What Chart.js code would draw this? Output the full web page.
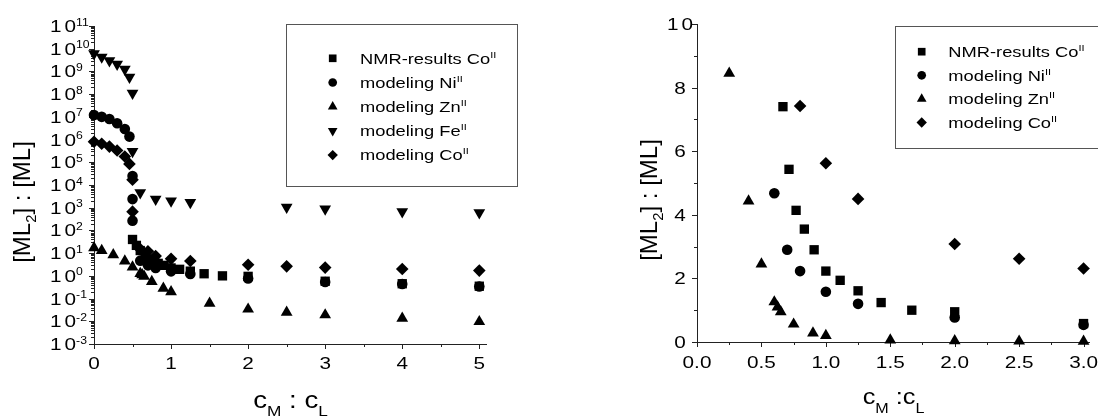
<!DOCTYPE html>
<html>
<head>
<meta charset="utf-8">
<title>[ML2] : [ML]</title>
<script src="https://cdn.jsdelivr.net/npm/chart.js@4.4.1/dist/chart.umd.min.js"></script>
<style>
  body { margin: 0; background: #fff; }
  #wrap { display: flex; width: 1098px; height: 417px; }
  canvas { display: block; }
</style>
</head>
<body>
<div id="wrap">
  <canvas id="left" width="549" height="417"></canvas>
  <canvas id="right" width="549" height="417"></canvas>
</div>
<script>
// values, x = cM : cL, y = [ML2] : [ML]
const nmrX = [0.5, 0.55, 0.6, 0.667, 0.714, 0.769, 0.833, 0.909, 1.0, 1.111, 1.25, 1.429, 1.667, 2.0, 3.0, 4.0, 5.0]
const nmrY = [40, 22, 13, 7.4, 5.43, 4.14, 3.55, 2.9, 2.23, 1.94, 1.61, 1.24, 1.0, 0.95, 0.58, 0.45, 0.35]

const niX = [0, 0.1, 0.2, 0.3, 0.4, 0.46, 0.5, 0.5, 0.5, 0.6, 0.7, 0.8, 1.0, 1.25, 2.0, 3.0, 4.0, 5.0]
const niY = [1.2e7, 1.0e7, 8e6, 5.2e6, 2.9e6, 1.35e6, 2.5e4, 2.4e3, 270, 4.68, 2.9, 2.23, 1.58, 1.2, 0.77, 0.54, 0.44, 0.34]

const znX = [0, 0.1, 0.25, 0.4, 0.5, 0.6, 0.625, 0.65, 0.75, 0.9, 1.0, 1.5, 2.0, 2.5, 3.0, 4.0, 5.0]
const znY = [17, 13, 8.45, 4.43, 2.45, 1.26, 1.1, 0.95, 0.56, 0.28, 0.2, 0.062, 0.034, 0.025, 0.019, 0.0135, 0.0096]

const feX = [0, 0.1, 0.2, 0.3, 0.4, 0.46, 0.5, 0.5, 0.6, 0.8, 1.0, 1.25, 2.5, 3.0, 4.0, 5.0]
const feY = [6e9, 4.3e9, 3e9, 2.1e9, 1.26e9, 5.6e8, 1.1e8, 3e5, 4.6e3, 2.4e3, 2e3, 1.7e3, 1.05e3, 890, 670, 600]

const coX = [0, 0.1, 0.2, 0.3, 0.4, 0.46, 0.5, 0.5, 0.6, 0.7, 0.8, 1.0, 1.25, 2.0, 2.5, 3.0, 4.0, 5.0]
const coY = [8e5, 6.5e5, 4.9e5, 3.3e5, 1.8e5, 8.5e4, 1.7e4, 670, 15, 12, 7.42, 5.62, 4.5, 3.08, 2.62, 2.31, 2.0, 1.7]

const seriesNames = ["NMR-results Co", "modeling Ni", "modeling Zn", "modeling Fe", "modeling Co"]

// tick labels
const leftXTicks = [0, 1, 2, 3, 4, 5]
const leftXMinor = [0.5, 1.5, 2.5, 3.5, 4.5]
const leftYExp = [-3, -2, -1, 0, 1, 2, 3, 4, 5, 6, 7, 8, 9, 10, 11]
const rightXTicks = ["0.0", "0.5", "1.0", "1.5", "2.0", "2.5", "3.0"]
const rightXMinor = [0.25, 0.75, 1.25, 1.75, 2.25, 2.75]
const rightYTicks = [0, 2, 4, 6, 8, 10]
const rightYMinor = [1, 3, 5, 7, 9]

const FONT = '"Liberation Sans", Arial, Helvetica, sans-serif'
const SX = 1.22   // the figure's lettering is a bit wide

// draws a row of text pieces (sub/superscripts via dy, extra spacing via gap)
function drawRuns(ctx, parts, x, y, align, sx) {
  let total = 0
  parts.forEach((p) => {
    ctx.font = p.s + "px " + FONT
    p.w = ctx.measureText(p.t).width * sx + (p.gap || 0)
    total += p.w
  })
  let cx = x
  if (align === "center") cx = x - total / 2
  if (align === "right") cx = x - total
  parts.forEach((p) => {
    ctx.save()
    ctx.font = p.s + "px " + FONT
    ctx.textAlign = "left"
    ctx.textBaseline = "alphabetic"
    ctx.translate(cx, y + (p.dy || 0))
    ctx.scale(sx, 1)
    ctx.fillText(p.t, 0, 0)
    ctx.restore()
    cx += p.w
  })
}

// "10" in the figure's font is set rather loose
const ten = (s) => [{ t: "1", s, gap: 3 }, { t: "0", s }]
const numLabel = (str, s) => (str === "10" ? ten(s) : [{ t: str, s }])
const yTitle = (s) => [{ t: "[ML", s }, { t: "2", s: s * 0.62, dy: s * 0.25 }, { t: "] : [ML]", s }]

// per canvas: ticks, titles, legend box
const frames = {
  left: {
    xMajor: leftXTicks.map((v) => ({ v, label: String(v) })),
    xMinor: leftXMinor,
    yMajor: leftYExp.map((e) => ({ v: Math.pow(10, e), label: ten(17).concat([{ t: String(e), s: 10, dy: -6.5 }]) })),
    yMinor: leftYExp.slice(0, -1).flatMap((e) => [2, 3, 4, 5, 6, 7, 8, 9].map((m) => m * Math.pow(10, e))),
    yLabelX: 50, yLabelAlign: "left",
    xLabelY: 368.5,
    xTitle: { x: 290.5, y: 408, parts: [{ t: "c", s: 24 }, { t: "M", s: 15, dy: 8 }, { t: " : ", s: 24 }, { t: "c", s: 24 }, { t: "L", s: 15, dy: 8 }] },
    yTitle: { x: 21, y: 202, s: 24 },
    legend: { box: [286.5, 24.5, 517.5, 186.5], mx: 332.7, tx: 360, y0: 58.3, dy: 24.2 }
  },
  right: {
    xMajor: rightXTicks.map((l) => ({ v: parseFloat(l), label: l })),
    xMinor: rightXMinor,
    yMajor: rightYTicks.map((v) => ({ v, label: numLabel(String(v), 17) })),
    yMinor: rightYMinor,
    yLabelX: 131, yLabelAlign: "center",
    xLabelY: 367.8,
    xTitle: { x: 344.5, y: 404, parts: [{ t: "c", s: 22 }, { t: "M", s: 14, dy: 9 }, { t: " :", s: 22 }, { t: "c", s: 22 }, { t: "L", s: 14, dy: 9 }] },
    yTitle: { x: 99, y: 200, s: 24 },
    legend: { box: [346.5, 26.5, 560, 148.5], mx: 372.7, tx: 399.3, y0: 51.7, dy: 23.6 }
  }
}

const framePlugin = {
  id: "frame",
  beforeDatasetsDraw(chart) {
    const f = frames[chart.canvas.id]
    const ctx = chart.ctx
    const a = chart.chartArea
    const xs = chart.scales.x, ys = chart.scales.y
    ctx.save()
    ctx.strokeStyle = "#222"
    ctx.lineWidth = 1
    ctx.beginPath()
    ctx.moveTo(a.left + 0.5, a.top)
    ctx.lineTo(a.left + 0.5, a.bottom + 0.5)
    ctx.lineTo(a.right, a.bottom + 0.5)
    // x ticks point down, y ticks point left
    f.xMajor.forEach((t) => {
      const px = Math.round(xs.getPixelForValue(t.v)) + 0.5
      ctx.moveTo(px, a.bottom); ctx.lineTo(px, a.bottom + 5)
    })
    f.xMinor.forEach((v) => {
      const px = Math.round(xs.getPixelForValue(v)) + 0.5
      ctx.moveTo(px, a.bottom); ctx.lineTo(px, a.bottom + 3)
    })
    f.yMajor.forEach((t) => {
      const py = Math.round(ys.getPixelForValue(t.v)) + 0.5
      ctx.moveTo(a.left, py); ctx.lineTo(a.left - 5, py)
    })
    f.yMinor.forEach((v) => {
      const py = Math.round(ys.getPixelForValue(v)) + 0.5
      ctx.moveTo(a.left, py); ctx.lineTo(a.left - 3, py)
    })
    ctx.stroke()

    ctx.fillStyle = "#000"
    f.xMajor.forEach((t) => {
      drawRuns(ctx, numLabel(t.label, 17), xs.getPixelForValue(t.v), f.xLabelY, "center", SX)
    })
    f.yMajor.forEach((t) => {
      drawRuns(ctx, t.label, f.yLabelX, ys.getPixelForValue(t.v) + 6, f.yLabelAlign, SX)
    })
    drawRuns(ctx, f.xTitle.parts, f.xTitle.x, f.xTitle.y, "center", 1.15)
    ctx.save()
    ctx.translate(f.yTitle.x, f.yTitle.y)
    ctx.rotate(-Math.PI / 2)
    drawRuns(ctx, yTitle(f.yTitle.s), 0, f.yTitle.s * 0.36, "center", 1)
    ctx.restore()
    ctx.restore()
  },
  afterDraw(chart) {
    const f = frames[chart.canvas.id]
    const ctx = chart.ctx
    const lg = f.legend
    ctx.save()
    ctx.strokeStyle = "#555"
    ctx.lineWidth = 1
    ctx.strokeRect(lg.box[0], lg.box[1], lg.box[2] - lg.box[0], lg.box[3] - lg.box[1])
    ctx.fillStyle = "#000"
    chart.data.datasets.forEach((ds, i) => {
      const y = lg.y0 + i * lg.dy
      Chart.helpers.drawPoint(ctx, { pointStyle: ds.pointStyle, rotation: ds.pointRotation, radius: ds.pointRadius * 0.82, borderWidth: 0 }, lg.mx, y)
      drawRuns(ctx, [{ t: ds.label, s: 15 }, { t: "II", s: 9, dy: -6 }], lg.tx, y + 5.3, "left", SX)
    })
    ctx.restore()
  }
}

function series(name, xs, ys, style, radius, rotation, xmax, ymax) {
  const data = []
  xs.forEach((x, i) => {
    if (x <= xmax && ys[i] <= ymax) data.push({ x, y: ys[i] })
  })
  return {
    label: name, data,
    pointStyle: style, pointRadius: radius, pointRotation: rotation,
    backgroundColor: "#000", borderColor: "#000", pointBorderWidth: 0,
    showLine: false, clip: false
  }
}

function build(id, datasets, xmax, yscale, padding, xh, yw) {
  return new Chart(document.getElementById(id), {
    type: "scatter",
    data: { datasets },
    options: {
      responsive: false,
      animation: false,
      events: [],
      devicePixelRatio: 1,
      layout: { padding },
      plugins: { legend: { display: false }, tooltip: { enabled: false } },
      scales: {
        x: {
          type: "linear", min: 0, max: xmax,
          grid: { display: false }, border: { display: false }, ticks: { display: false },
          afterFit: (s) => { s.height = xh }
        },
        y: Object.assign({
          grid: { display: false }, border: { display: false }, ticks: { display: false },
          afterFit: (s) => { s.width = yw }
        }, yscale)
      }
    },
    plugins: [framePlugin]
  })
}

const BIG = Infinity
build("left", [
  series(seriesNames[0], nmrX, nmrY, "rect", 6.6, 0, BIG, BIG),
  series(seriesNames[1], niX, niY, "circle", 5.3, 0, BIG, BIG),
  series(seriesNames[2], znX, znY, "triangle", 6.8, 0, BIG, BIG),
  series(seriesNames[3], feX, feY, "triangle", 6.8, 180, BIG, BIG),
  series(seriesNames[4], coX, coY, "rectRot", 6.3, 0, BIG, BIG)
], 5.1, { type: "logarithmic", min: 1e-3, max: 1e11 }, { left: 0, right: 62, top: 26, bottom: 0 }, 73, 94)

build("right", [
  series(seriesNames[0], nmrX, nmrY, "rect", 6.6, 0, 3.05, 10),
  series(seriesNames[1], niX, niY, "circle", 5.3, 0, 3.05, 10),
  series(seriesNames[2], znX, znY, "triangle", 6.8, 0, 3.05, 10),
  series(seriesNames[4], coX, coY, "rectRot", 6.3, 0, 3.05, 10)
], 3.05, { type: "linear", min: 0, max: 10 }, { left: 0, right: 8, top: 24, bottom: 0 }, 75, 148)
</script>
</body>
</html>
